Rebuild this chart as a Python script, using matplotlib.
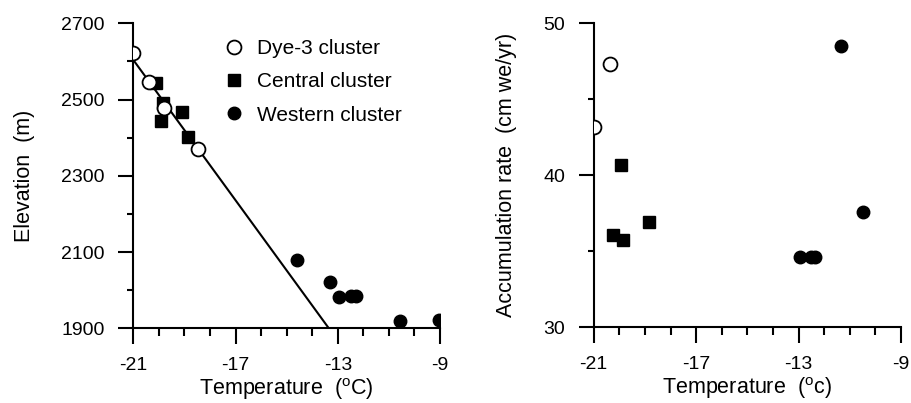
import matplotlib
matplotlib.use("Agg")
import matplotlib.pyplot as plt
from matplotlib.ticker import MultipleLocator

plt.rcParams['font.family'] = ['Liberation Sans', 'DejaVu Sans']
plt.rcParams['mathtext.fontset'] = 'custom'
plt.rcParams['mathtext.rm'] = 'Liberation Sans'
plt.rcParams['axes.unicode_minus'] = False

# Left panel: elevation vs temperature
dye3_temp = [-21.0, -20.4, -19.8, -18.45]
dye3_elev = [2622, 2547, 2477, 2369]
central_temp = [-20.1, -19.85, -19.9, -19.1, -18.85]
central_elev = [2544, 2490, 2444, 2468, 2401]
western_temp = [-14.6, -13.3, -12.95, -12.5, -12.3, -10.55, -9.05]
western_elev = [2079, 2021, 1983, 1984, 1984, 1919, 1922]
fit_temp = [-21.0, -13.35]
fit_elev = [2604, 1900]

# Right panel: accumulation rate vs temperature
dye3_temp_r = [-21.0, -20.35]
dye3_acc = [43.2, 47.3]
central_temp_r = [-19.95, -20.25, -19.85, -18.85]
central_acc = [40.7, 36.1, 35.75, 36.95]
western_temp_r = [-11.35, -12.95, -12.5, -12.35, -10.5]
western_acc = [48.5, 34.65, 34.65, 34.65, 37.55]

labels = ['Dye-3 cluster', 'Central cluster', 'Western cluster']
xticks = [-21, -17, -13, -9]

fig = plt.figure(figsize=(9.11, 4.03), dpi=100)
ax1 = fig.add_axes([0.1463, 0.1854, 0.3367, 0.7568])
ax2 = fig.add_axes([0.6517, 0.1878, 0.3373, 0.755])

circ_kw = dict(linestyle='none', marker='o', markersize=10, markerfacecolor='white',
               markeredgecolor='black', markeredgewidth=1.3)
sq_kw = dict(linestyle='none', marker='s', markersize=8.5, color='black')
dot_kw = dict(linestyle='none', marker='o', markersize=9, color='black')

ax1.plot(fit_temp, fit_elev, color='black', lw=1.5, zorder=1)
h1, = ax1.plot(dye3_temp, dye3_elev, zorder=3, **circ_kw)
h2, = ax1.plot(central_temp, central_elev, zorder=2, **sq_kw)
h3, = ax1.plot(western_temp, western_elev, zorder=2, **dot_kw)

ax2.plot(dye3_temp_r, dye3_acc, zorder=3, **circ_kw)
ax2.plot(central_temp_r, central_acc, zorder=2, **sq_kw)
ax2.plot(western_temp_r, western_acc, zorder=2, **dot_kw)

ax1.set_xlim(-21, -9)
ax1.set_ylim(1900, 2700)
ax1.set_yticks([1900, 2100, 2300, 2500, 2700])
ax1.yaxis.set_minor_locator(MultipleLocator(100))
ax2.set_xlim(-21, -9)
ax2.set_ylim(30, 50)
ax2.set_yticks([30, 40, 50])
ax2.yaxis.set_minor_locator(MultipleLocator(5))

for ax in (ax1, ax2):
    ax.set_xticks(xticks)
    ax.xaxis.set_minor_locator(MultipleLocator(1))
    for s in ('top', 'right'):
        ax.spines[s].set_visible(False)
    for s in ('left', 'bottom'):
        ax.spines[s].set_linewidth(1.5)
    ax.tick_params(axis='x', which='major', direction='out', length=11.5, width=1.5,
                   labelsize=14, pad=9)
    ax.tick_params(axis='x', which='minor', direction='out', length=5.5, width=1.5)
    ax.tick_params(axis='y', which='major', direction='out', length=10.5, width=1.5,
                   labelsize=14, pad=10)
    ax.tick_params(axis='y', which='minor', direction='out', length=4.5, width=1.5)
    for sp in ax.spines.values():
        sp.set_clip_on(False)

ax1.set_xlabel(r'Temperature  (${}^{\mathrm{o}}$C)', fontsize=15.5, labelpad=1.5)
ax1.set_ylabel('Elevation  (m)', fontsize=15.5, labelpad=19)
ax2.set_xlabel(r'Temperature  (${}^{\mathrm{o}}$c)', fontsize=15.5, labelpad=1.5)
ax2.set_ylabel('Accumulation rate  (cm we/yr)', fontsize=15.5, labelpad=19)

leg = ax1.legend([h1, h2, h3], labels, loc='upper left', bbox_to_anchor=(0.275, 0.975),
                 frameon=False, fontsize=15, handlelength=0.8, handletextpad=0.7,
                 labelspacing=0.68, borderaxespad=0)

fig.savefig('out.png', dpi=100)
